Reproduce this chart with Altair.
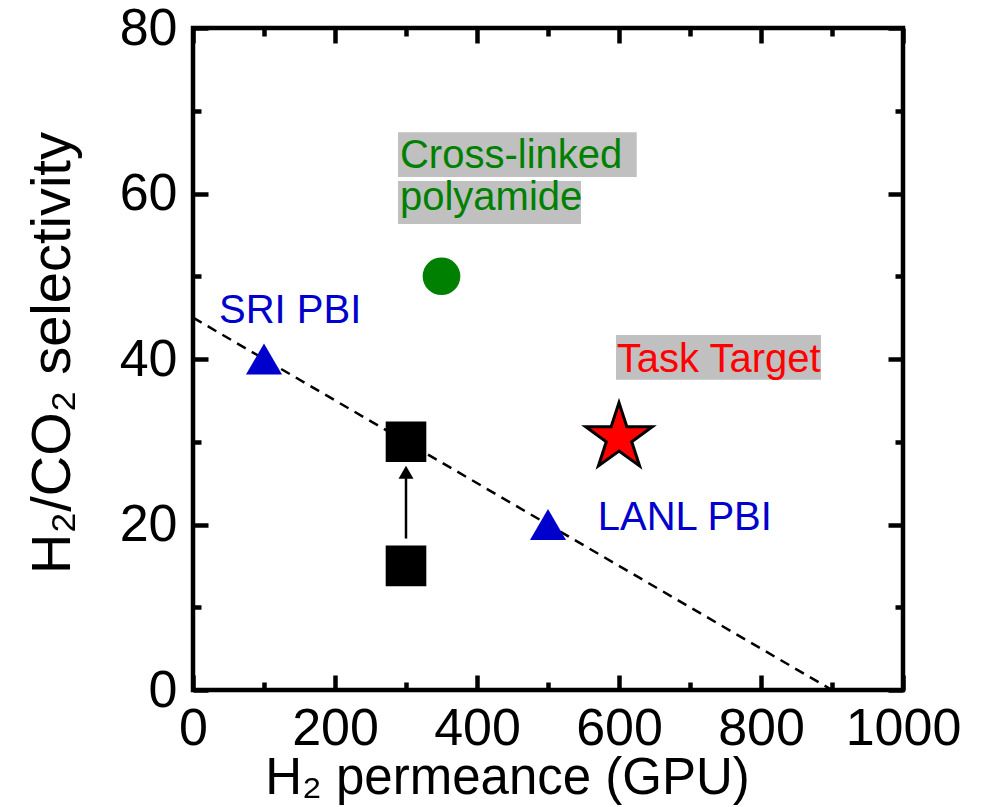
import altair as alt
import pandas as pd

# ---- data ----
pbi_x = [100, 500]
pbi_y = [40, 20]
pa_x = [350]
pa_y = [50]
sq_x = [300, 300]
sq_y = [15, 30]
target_x = [600]
target_y = [30.5]
trade_x = [0, 900]
trade_y = [45, 0]
arrow_x = [300]
arrow_y = [18.3]
arrow_y2 = [26.0]
arrow_head_y = [26.3]

labels = ["SRI PBI", "Cross-linked", "polyamide", "Task Target", "LANL PBI"]
label_x = [36.6, 291.5, 291.5, 597, 570]
label_y = [44.35, 63.1, 58.0, 38.4, 19.3]
label_color = ["#0000cd", "#008000", "#008000", "#ff0000", "#0000cd"]

box_x = [288.7, 288.7, 595.8]
box_x2 = [625, 546.5, 884.5]
box_y = [67.4, 61.5, 42.9]
box_y2 = [62.0, 56.3, 37.5]

x_major = [0, 200, 400, 600, 800, 1000]
x_minor = [100, 300, 500, 700, 900]
y_major = [0, 20, 40, 60, 80]
y_minor = [10, 30, 50, 70]

W, H = 710, 662
FONT = "Liberation Sans"

xs = alt.Scale(domain=[0, 1000], nice=False, zero=False)
ys = alt.Scale(domain=[0, 80], nice=False, zero=False)


def tick_axis(orient, values, size, offset):
    return alt.Axis(orient=orient, values=values, tickSize=size, tickWidth=4.5,
                    tickColor="black", labels=False, domain=False, grid=False,
                    title=None, offset=offset)


# gray label boxes + main axes
boxes = alt.Chart(pd.DataFrame({"x": box_x, "x2": box_x2, "y": box_y, "y2": box_y2})).mark_rect(
    color="#c0c0c0").encode(
    x=alt.X("x:Q", scale=xs, axis=alt.Axis(
        orient="bottom", values=x_major, format="d", ticks=False, domain=False, grid=False,
        labelFontSize=52, labelFont=FONT, labelColor="black", labelPadding=13,
        labelFlush=False,
        title="H\u2082 permeance (GPU)", titleFont=FONT, titleFontSize=51,
        titleFontWeight="normal", titleColor="black", titleX=314, titleY=103,
        titleBaseline="alphabetic", titleAlign="center")),
    x2="x2:Q",
    y=alt.Y("y:Q", scale=ys, axis=alt.Axis(
        orient="left", values=y_major, format="d", ticks=False, domain=False, grid=False,
        labelFontSize=52, labelFont=FONT, labelColor="black", labelPadding=16,
        labelFlush=False,
        title="H\u2082/CO\u2082 selectivity", titleFont=FONT, titleFontSize=56,
        titleFontWeight="normal", titleColor="black", titleX=-124, titleY=324.5,
        titleBaseline="alphabetic", titleAlign="center", titleAngle=-90)),
    y2="y2:Q",
)

trade = alt.Chart(pd.DataFrame({"x": trade_x, "y": trade_y})).mark_line(
    color="black", strokeWidth=2.5, strokeDash=[10, 7]).encode(
    x=alt.X("x:Q", scale=xs, axis=tick_axis("top", x_major, 15, -H)),
    y=alt.Y("y:Q", scale=ys, axis=tick_axis("right", y_major, 15, -W)),
)

tri = alt.Chart(pd.DataFrame({"x": pbi_x, "y": pbi_y})).mark_point(
    shape="triangle-up", filled=True, color="#0000cd", size=1300, opacity=1).encode(
    x=alt.X("x:Q", scale=xs, axis=tick_axis("top", x_minor, 8, -H)),
    y=alt.Y("y:Q", scale=ys, axis=tick_axis("right", y_minor, 8, -W)),
)

squares = alt.Chart(pd.DataFrame({"x": sq_x, "y": sq_y})).mark_point(
    shape="square", filled=True, color="black", size=1650, opacity=1).encode(
    x=alt.X("x:Q", scale=xs, axis=tick_axis("bottom", x_major, 15, -H)),
    y=alt.Y("y:Q", scale=ys, axis=tick_axis("left", y_major, 15, -W)),
)

circle = alt.Chart(pd.DataFrame({"x": pa_x, "y": pa_y})).mark_point(
    shape="circle", filled=True, color="#008000", size=1420, opacity=1).encode(
    x=alt.X("x:Q", scale=xs, axis=tick_axis("bottom", x_minor, 8, -H)),
    y=alt.Y("y:Q", scale=ys, axis=tick_axis("left", y_minor, 8, -W)),
)

STAR = ("M0,-1L0.2245,-0.309L0.9511,-0.309L0.3633,0.118L0.5878,0.809L0,0.382"
        "L-0.5878,0.809L-0.3633,0.118L-0.9511,-0.309L-0.2245,-0.309Z")
star = alt.Chart(pd.DataFrame({"x": target_x, "y": target_y})).mark_point(
    shape=STAR, filled=True, fill="#ff0000", stroke="black", strokeWidth=3,
    size=4900, opacity=1, fillOpacity=1, strokeOpacity=1).encode(
    x=alt.X("x:Q", scale=xs, axis=None),
    y=alt.Y("y:Q", scale=ys, axis=None),
)

arrow = alt.Chart(pd.DataFrame({"x": arrow_x, "y": arrow_y, "y2": arrow_y2})).mark_rule(
    color="black", strokeWidth=2.5).encode(
    x=alt.X("x:Q", scale=xs, axis=None),
    y=alt.Y("y:Q", scale=ys, axis=None),
    y2="y2:Q",
)

head = alt.Chart(pd.DataFrame({"x": arrow_x, "y": arrow_head_y})).mark_point(
    shape="triangle-up", filled=True, color="black", size=225, opacity=1).encode(
    x=alt.X("x:Q", scale=xs, axis=None),
    y=alt.Y("y:Q", scale=ys, axis=None),
)

texts = alt.Chart(pd.DataFrame({"x": label_x, "y": label_y, "t": labels, "c": label_color})).mark_text(
    align="left", baseline="alphabetic", fontSize=40, font=FONT).encode(
    x=alt.X("x:Q", scale=xs, axis=None),
    y=alt.Y("y:Q", scale=ys, axis=None),
    text="t:N",
    color=alt.Color("c:N", scale=None),
)

chart = alt.layer(boxes, trade, tri, squares, circle, arrow, head, star, texts).resolve_axis(
    x="independent", y="independent"
).properties(
    width=W, height=H,
    autosize=alt.AutoSizeParams(type="none"),
    padding={"left": 185, "top": 20, "right": 70, "bottom": 116},
).configure_view(
    stroke="black", strokeWidth=4.5
)

chart.save("out.html", embed_options={"renderer": "svg", "actions": False})
